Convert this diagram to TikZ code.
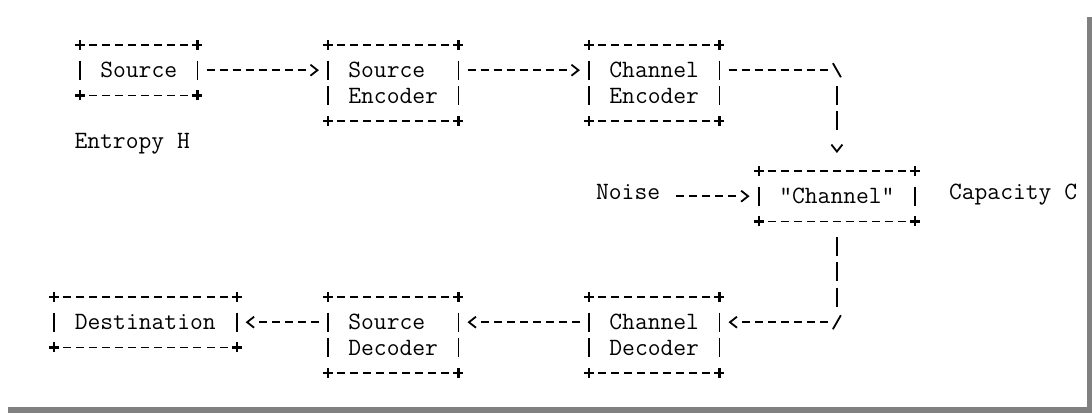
\documentclass[tikz,border=0pt]{standalone}
\usepackage{fontspec}
\usetikzlibrary{arrows.meta}
% dash pattern with a fixed number of dashes, then a long gap
\newcount\dashcnt
\newcommand\mkdashes[3]{%
  \def\dashspec{on #2 off 500pt}\dashcnt=#1\relax
  \loop\ifnum\dashcnt>1 \edef\dashspec{on #2 off #3 \dashspec}\advance\dashcnt by -1 \repeat}

\begin{document}
\begin{tikzpicture}[x=13.05pt, y=-25.2pt, line width=1.8pt,
    font=\ttfamily\addfontfeature{FakeBold=1}\fontsize{24.86pt}{25.2pt}\selectfont]
  % `box' is a text block, its ascii frame is drawn afterwards.
  % `hrule' and `vrule' give the -- and | runs of the frames.
  % `link' is a connector ending in a > tip.
  \tikzset{
    box/.style 2 args={inner sep=0pt, outer sep=0pt, align=left,
      minimum width=#1*13.05pt, minimum height=#2*25.2pt},
    txt/.style={inner sep=0pt, outer sep=0pt, text height=0.62em, text depth=0pt},
    hrule/.style={shorten <=9.05pt, shorten >=9.05pt, dash pattern=on 8pt off 5.05pt},
    vrule/.style={shorten <=15.7pt, shorten >=15.7pt, dash pattern=on 19pt off 6.2pt},
    corner/.style={line width=2.2pt},
    dashrun/.code={\mkdashes{#1}{8pt}{5.05pt}%
      \edef\dashset{\noexpand\tikzset{dash pattern=\dashspec}}\dashset},
    barrun/.code={\mkdashes{#1}{19pt}{6.2pt}%
      \edef\dashset{\noexpand\tikzset{dash pattern=\dashspec}}\dashset},
    link/.style={shorten <=9.05pt, shorten >=9.05pt,
      -{Straight Barb[length=7pt,width=11pt]}},
    shadow/.style={fill=black!50}
  }
  \useasboundingbox (-80pt,45pt) rectangle (1012pt,-368pt);
  \fill[shadow] (1007pt,28pt) rectangle (1012pt,-368pt);
  \fill[shadow] (-72pt,-362pt) rectangle (1012pt,-368pt);
  %
  \node[box={9}{2}] (src) at (4.5,1) {Source};
  \node[box={10}{3}] (senc) at (24,1.5) {Source\\Encoder};
  \node[box={10}{3}] (cenc) at (44,1.5) {Channel\\Encoder};
  \node[box={12}{2}] (chan) at (58,6) {"Channel"};
  \node[box={14}{2}] (dest) at (5,11) {Destination};
  \node[box={10}{3}] (sdec) at (24,11.5) {Source\\Decoder};
  \node[box={10}{3}] (cdec) at (44,11.5) {Channel\\Decoder};
  \node[txt] (entropy) at (4,4) {Entropy H};
  \node[txt] (noise) at (42,6) {Noise};
  \node[txt] (capacity) at (71.5,6) {Capacity C};
  \coordinate (turn1) at (58,1);
  \coordinate (turn2) at (58,11);
  % frames
  \foreach \b in {src,senc,cenc,chan,dest,sdec,cdec} {
    \draw[hrule] (\b.north west) -- (\b.north east);
    \draw[hrule] (\b.south west) -- (\b.south east);
    \draw[vrule] (\b.north west) -- (\b.south west);
    \draw[vrule] (\b.north east) -- (\b.south east);
    \foreach \c in {north west,north east,south west,south east}
      \draw[corner] (\b.\c) +(-5pt,0) -- +(5pt,0) +(0,-5pt) -- +(0,5pt);
  }
  % forward path
  \draw[link, dashrun=8] (src.east) -- (src.east -| senc.west);
  \draw[link, dashrun=8] (senc.east |- src) -- (cenc.west |- src);
  \draw[hrule] (cenc.east |- src) -- (turn1);
  \draw (turn1) +(-4pt,7pt) -- +(4pt,-7pt);
  \draw[barrun=2, shorten <=15.7pt, shorten >=18pt,
    -{Straight Barb[length=7pt,width=11pt]}] (turn1) -- (chan.north);
  \draw[link, dashrun=5, shorten <=15.575pt] (noise.east) -- (chan.west);
  % return path
  \draw[vrule] (chan.south) -- (turn2);
  \draw (turn2) +(-4pt,-7pt) -- +(4pt,7pt);
  \draw[link, dashrun=7] (turn2) -- (cdec.east |- turn2);
  \draw[link, dashrun=8] (cdec.west |- turn2) -- (sdec.east |- turn2);
  \draw[link, dashrun=5] (sdec.west |- turn2) -- (dest.east);
\end{tikzpicture}
\end{document}
